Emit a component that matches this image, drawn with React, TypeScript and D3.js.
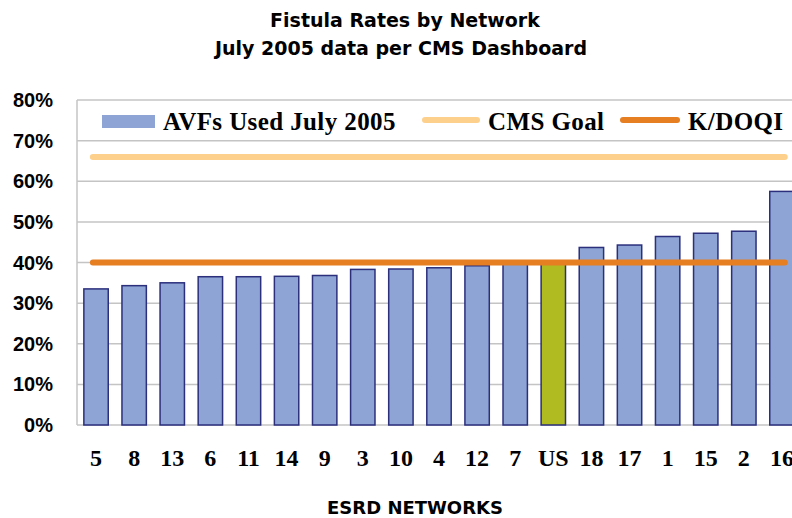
import { useEffect, useRef } from 'react';
import * as d3 from 'd3';

const networks = ['5', '8', '13', '6', '11', '14', '9', '3', '10', '4', '12', '7', 'US', '18', '17', '1', '15', '2', '16'];
const avfRates = [33.5, 34.3, 35.0, 36.5, 36.5, 36.6, 36.8, 38.3, 38.4, 38.7, 39.2, 39.6, 39.9, 43.7, 44.3, 46.4, 47.2, 47.7, 57.5];
const cmsGoal = 66;
const kdoqi = 40;
const yTicks = [0, 10, 20, 30, 40, 50, 60, 70, 80];

const W = 792;
const H = 518;

export default function App() {
  const ref = useRef<SVGSVGElement | null>(null);

  useEffect(() => {
    if (!ref.current) return;
    const svg = d3.select(ref.current);
    svg.selectAll('*').remove();

    const margin = { top: 100, left: 77, bottom: 93 };
    const plotRight = 801;
    const innerH = H - margin.top - margin.bottom;

    const x = d3.scaleBand<string>().domain(networks).range([margin.left, plotRight]).paddingInner(0.36).paddingOuter(0.18);
    const y = d3.scaleLinear().domain([0, 80]).range([margin.top + innerH, margin.top]);

    const serif = '"Liberation Serif", "DejaVu Serif", serif';
    const sans = '"Liberation Sans", Arial, sans-serif';
    const heavy = '"DejaVu Sans", "Liberation Sans", sans-serif';

    // title
    const title = svg.append('g').attr('font-family', heavy).attr('font-weight', 'bold').attr('font-size', 19).attr('text-anchor', 'middle');
    title.append('text').attr('x', 405).attr('y', 27).text('Fistula Rates by Network');
    title.append('text').attr('x', 401).attr('y', 55).text('July 2005 data per CMS Dashboard');

    // grid
    svg
      .append('g')
      .selectAll('line')
      .data(yTicks)
      .join('line')
      .attr('x1', margin.left)
      .attr('x2', W)
      .attr('y1', d => y(d))
      .attr('y2', d => y(d))
      .attr('stroke', '#c4c4c4')
      .attr('stroke-width', 1.5);

    svg
      .append('line')
      .attr('x1', margin.left)
      .attr('x2', margin.left)
      .attr('y1', y(80))
      .attr('y2', y(0))
      .attr('stroke', '#c4c4c4')
      .attr('stroke-width', 1.5);

    // y labels
    svg
      .append('g')
      .selectAll('text')
      .data(yTicks)
      .join('text')
      .attr('x', 53)
      .attr('y', d => y(d) + 7)
      .attr('text-anchor', 'end')
      .attr('font-family', sans)
      .attr('font-weight', 'bold')
      .attr('font-size', 20)
      .text(d => `${d}%`);

    // bars
    svg
      .append('g')
      .selectAll('rect')
      .data(networks)
      .join('rect')
      .attr('x', d => x(d)!)
      .attr('width', x.bandwidth())
      .attr('y', (_, i) => y(avfRates[i]))
      .attr('height', (_, i) => y(0) - y(avfRates[i]))
      .attr('fill', d => (d === 'US' ? '#b0bb22' : '#8da4d4'))
      .attr('stroke', '#2b2f7c')
      .attr('stroke-width', 1.5);

    // reference lines
    const x0 = x(networks[0])! + 9;
    const x1 = x(networks[networks.length - 1])! + 15;
    svg.append('line').attr('x1', x0).attr('x2', x1).attr('y1', y(cmsGoal)).attr('y2', y(cmsGoal))
      .attr('stroke', '#fdd08c').attr('stroke-width', 6).attr('stroke-linecap', 'round');
    svg.append('line').attr('x1', x0).attr('x2', x1).attr('y1', y(kdoqi)).attr('y2', y(kdoqi))
      .attr('stroke', '#e67e22').attr('stroke-width', 6).attr('stroke-linecap', 'round');

    // x labels
    svg
      .append('g')
      .selectAll('text')
      .data(networks)
      .join('text')
      .attr('x', d => x(d)! + x.bandwidth() / 2)
      .attr('y', 466)
      .attr('text-anchor', 'middle')
      .attr('font-family', serif)
      .attr('font-weight', 'bold')
      .attr('font-size', 24)
      .text(d => d);

    svg.append('text').attr('x', 415).attr('y', 514).attr('text-anchor', 'middle')
      .attr('font-family', heavy).attr('font-weight', 'bold').attr('font-size', 18).text('ESRD NETWORKS');

    // legend
    const lg = svg.append('g').attr('font-family', serif).attr('font-weight', 'bold').attr('font-size', 25).attr('letter-spacing', 0.4);
    lg.append('rect').attr('x', 102).attr('y', 115).attr('width', 53).attr('height', 13).attr('fill', '#8da4d4');
    lg.append('text').attr('x', 163).attr('y', 130).text('AVFs Used July 2005');
    lg.append('line').attr('x1', 425).attr('x2', 477).attr('y1', 120).attr('y2', 120)
      .attr('stroke', '#fdd08c').attr('stroke-width', 6).attr('stroke-linecap', 'round');
    lg.append('text').attr('x', 488).attr('y', 130).text('CMS Goal');
    lg.append('line').attr('x1', 623).attr('x2', 677).attr('y1', 120).attr('y2', 120)
      .attr('stroke', '#e67e22').attr('stroke-width', 6).attr('stroke-linecap', 'round');
    lg.append('text').attr('x', 688).attr('y', 130).text('K/DOQI');
  }, []);

  return <svg ref={ref} width={W} height={H} style={{ display: 'block', position: 'absolute', left: 0, top: 0, background: '#fff' }} />;
}
